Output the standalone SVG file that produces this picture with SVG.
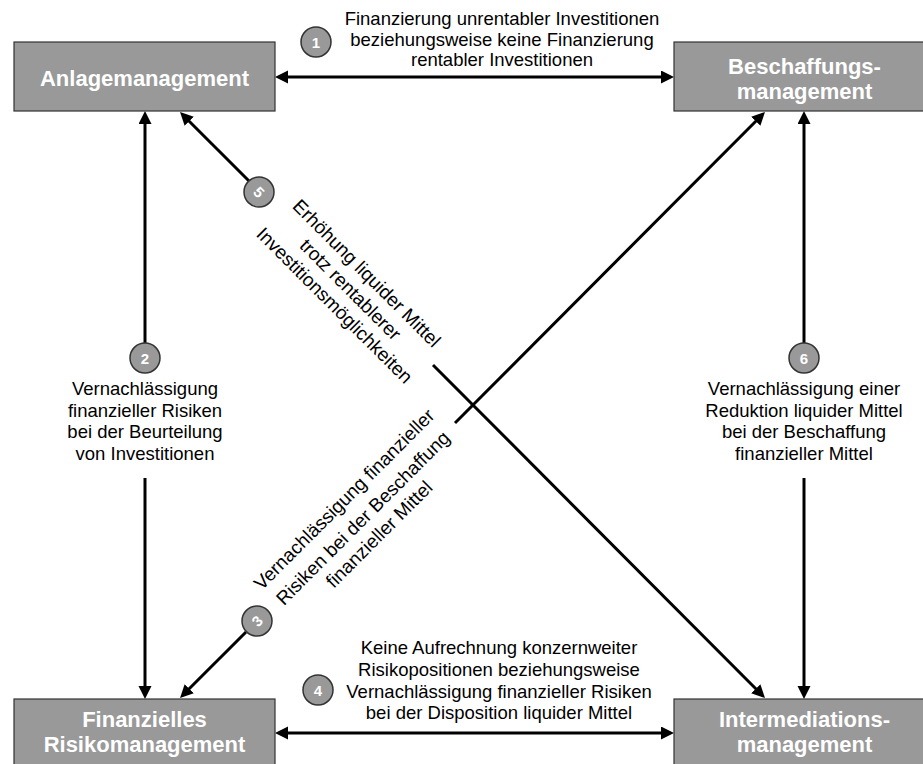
<svg xmlns="http://www.w3.org/2000/svg" width="923" height="764" viewBox="0 0 923 764">
<style>
.box{fill:#999999;stroke:#333333;stroke-width:1.2}
.bt{font-family:"Liberation Sans",Arial,sans-serif;font-weight:bold;font-size:22px;fill:#ffffff;text-anchor:middle}
.lb{font-family:"Liberation Sans",Arial,sans-serif;font-size:18.5px;fill:#000000;text-anchor:middle}
.rl{font-family:"Liberation Sans",Arial,sans-serif;font-size:19px;fill:#000000;text-anchor:middle}
.ln{stroke:#000000;stroke-width:3;fill:none}
.cir{fill:#999999;stroke:#333333;stroke-width:1.5}
.num{font-family:"Liberation Sans",Arial,sans-serif;font-weight:bold;font-size:15px;fill:#ffffff;text-anchor:middle}
</style>
<defs>
<marker id="ah" markerUnits="userSpaceOnUse" markerWidth="14" markerHeight="14" refX="5" refY="6.5" orient="auto-start-reverse">
<path d="M0,0 L13,6.5 L0,13 z" fill="#000000"/>
</marker>
</defs>
<rect width="923" height="764" fill="#ffffff"/>

<g id="connectors">
<line class="ln" x1="283" y1="77" x2="666" y2="77" marker-start="url(#ah)" marker-end="url(#ah)"/>
<line class="ln" x1="283" y1="733" x2="666" y2="733" marker-start="url(#ah)" marker-end="url(#ah)"/>
<line class="ln" x1="145" y1="343" x2="145" y2="119" marker-end="url(#ah)"/>
<line class="ln" x1="145" y1="478" x2="145" y2="691" marker-end="url(#ah)"/>
<line class="ln" x1="804" y1="343" x2="804" y2="119" marker-end="url(#ah)"/>
<line class="ln" x1="804" y1="478" x2="804" y2="691" marker-end="url(#ah)"/>
<line class="ln" x1="249" y1="181" x2="185.7" y2="117.7" marker-end="url(#ah)"/>
<line class="ln" x1="433" y1="365" x2="759.3" y2="692.3" marker-end="url(#ah)"/>
<line class="ln" x1="246" y1="632" x2="185.7" y2="692.3" marker-end="url(#ah)"/>
<line class="ln" x1="455" y1="423" x2="759.3" y2="117.7" marker-end="url(#ah)"/>
</g>

<g id="anlagemanagement">
<rect class="box" x="14" y="42" width="261" height="69"/>
<text class="bt" x="144.5" y="86">Anlagemanagement</text>
</g>
<g id="beschaffungsmanagement">
<rect class="box" x="674" y="42" width="261" height="69"/>
<text class="bt" x="804.5" y="74">Beschaffungs-</text>
<text class="bt" x="804.5" y="99">management</text>
</g>
<g id="finanzielles-risikomanagement">
<rect class="box" x="14" y="699" width="261" height="69"/>
<text class="bt" x="144.5" y="727">Finanzielles</text>
<text class="bt" x="144.5" y="752">Risikomanagement</text>
</g>
<g id="intermediationsmanagement">
<rect class="box" x="674" y="699" width="261" height="69"/>
<text class="bt" x="804.5" y="727">Intermediations-</text>
<text class="bt" x="804.5" y="752">management</text>
</g>

<g id="label1">
<circle class="cir" cx="316" cy="42" r="15"/>
<text class="num" x="316" y="47.5">1</text>
<text class="lb" x="502" y="25">Finanzierung unrentabler Investitionen</text>
<text class="lb" x="502" y="45.5">beziehungsweise keine Finanzierung</text>
<text class="lb" x="502" y="66">rentabler Investitionen</text>
</g>
<g id="label2">
<circle class="cir" cx="145" cy="358" r="15"/>
<text class="num" x="145" y="363.5">2</text>
<text class="lb" x="145" y="395">Vernachlässigung</text>
<text class="lb" x="145" y="416.5">finanzieller Risiken</text>
<text class="lb" x="145" y="438">bei der Beurteilung</text>
<text class="lb" x="145" y="459.5">von Investitionen</text>
</g>
<g id="label6">
<circle class="cir" cx="804" cy="358" r="15"/>
<text class="num" x="804" y="363.5">6</text>
<text class="lb" x="804" y="395">Vernachlässigung einer</text>
<text class="lb" x="804" y="416.5">Reduktion liquider Mittel</text>
<text class="lb" x="804" y="438">bei der Beschaffung</text>
<text class="lb" x="804" y="459.5">finanzieller Mittel</text>
</g>
<g id="label4">
<circle class="cir" cx="318" cy="690" r="15"/>
<text class="num" x="318" y="695.5">4</text>
<text class="lb" x="499" y="654">Keine Aufrechnung konzernweiter</text>
<text class="lb" x="499" y="676">Risikopositionen beziehungsweise</text>
<text class="lb" x="499" y="698">Vernachlässigung finanzieller Risiken</text>
<text class="lb" x="499" y="719">bei der Disposition liquider Mittel</text>
</g>
<g id="label5">
<circle class="cir" cx="259" cy="192" r="15"/>
<text class="num" transform="translate(259,192) rotate(45)" x="0" y="5.5">5</text>
<g transform="translate(354,286) rotate(45)">
<text class="rl" x="0" y="-11.5">Erhöhung liquider Mittel</text>
<text class="rl" x="0" y="11.5">trotz rentablerer</text>
<text class="rl" x="0" y="34">Investitionsmöglichkeiten</text>
</g>
</g>
<g id="label3">
<circle class="cir" cx="257" cy="621" r="15"/>
<text class="num" transform="translate(257,621) rotate(-45)" x="0" y="5.5">3</text>
<g transform="translate(361.4,516.6) rotate(-45)">
<text class="rl" x="0" y="-18">Vernachlässigung finanzieller</text>
<text class="rl" x="0" y="8.5">Risiken bei der Beschaffung</text>
<text class="rl" x="0" y="31.5">finanzieller Mittel</text>
</g>
</g>
</svg>
